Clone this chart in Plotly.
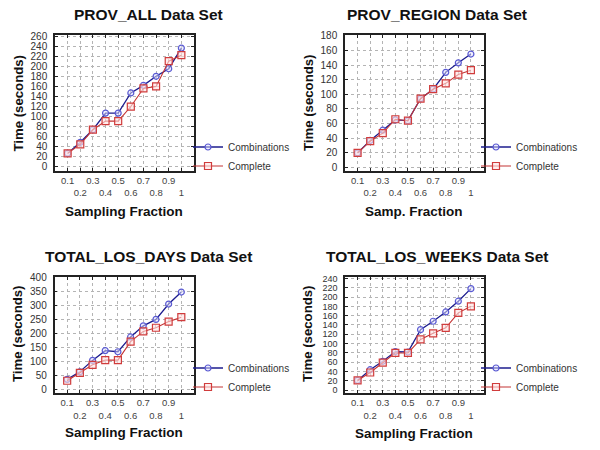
import plotly.graph_objects as go

fractions = [0.1, 0.2, 0.3, 0.4, 0.5, 0.6, 0.7, 0.8, 0.9, 1.0]
x_tick_labels = ["0.1", "0.2", "0.3", "0.4", "0.5", "0.6", "0.7", "0.8", "0.9", "1"]

panel_titles = ["PROV_ALL Data Set", "PROV_REGION Data Set",
                "TOTAL_LOS_DAYS Data Set", "TOTAL_LOS_WEEKS Data Set"]
x_titles = ["Sampling Fraction", "Samp. Fraction", "Sampling Fraction", "Sampling Fraction"]
y_title = "Time (seconds)"
series_names = ["Combinations", "Complete"]

prov_all_comb = [27, 49, 74, 107, 107, 147, 162, 180, 195, 236]
prov_all_comp = [27, 45, 74, 91, 91, 120, 156, 160, 210, 222]

prov_region_comb = [20, 37, 51, 65, 64, 94, 107, 130, 143, 155]
prov_region_comp = [20, 36, 47, 66, 64, 94, 107, 115, 127, 133]

los_days_comb = [35, 62, 103, 138, 134, 187, 227, 250, 305, 348]
los_days_comp = [30, 58, 87, 104, 104, 170, 207, 220, 242, 258]

los_weeks_comb = [21, 44, 62, 83, 82, 130, 148, 168, 191, 218]
los_weeks_comp = [21, 38, 59, 80, 80, 109, 122, 134, 166, 180]

comb_series = [prov_all_comb, prov_region_comb, los_days_comb, los_weeks_comb]
comp_series = [prov_all_comp, prov_region_comp, los_days_comp, los_weeks_comp]

y_ranges = [[-7, 262], [-4, 181], [-14, 402], [-6, 243]]
y_dticks = [20, 20, 50, 20]
y_tick_sizes = [10, 10, 10, 9]

W, H = 600, 450
def px(x):
    return x / W
def py(y):
    return 1 - y / H

# panel boxes in pixels: left, right, top, bottom
boxes = [(55, 194, 35, 170.5), (345, 483.5, 35, 170.5),
         (54.5, 194, 277, 393), (345, 483.5, 277, 393)]

FONT = "Arial, Liberation Sans, sans-serif"
fig = go.Figure()

tick_text = [t if i % 2 == 0 else "<br>" + t for i, t in enumerate(x_tick_labels)]

for i in range(4):
    sfx = "" if i == 0 else str(i + 1)
    leg = "legend" if i == 0 else "legend" + str(i + 1)
    fig.add_trace(go.Scatter(
        x=fractions, y=comb_series[i], name=series_names[0], mode="lines+markers",
        line=dict(color="#1c1c8e", width=1.3),
        marker=dict(symbol="circle", size=6, color="rgba(225,225,255,0.5)",
                    line=dict(color="#5a5ad2", width=1.2)),
        xaxis="x" + sfx, yaxis="y" + sfx, legend=leg))
    fig.add_trace(go.Scatter(
        x=fractions, y=comp_series[i], name=series_names[1], mode="lines+markers",
        line=dict(color="#c43434", width=1.1),
        marker=dict(symbol="square", size=7, color="rgba(255,225,225,0.6)",
                    line=dict(color="#d03c3c", width=1.2)),
        xaxis="x" + sfx, yaxis="y" + sfx, legend=leg))

layout = dict(width=W, height=H, margin=dict(l=0, r=0, t=0, b=0, autoexpand=False),
              paper_bgcolor="white", plot_bgcolor="white", showlegend=True,
              font=dict(family=FONT, color="#333"))

annotations = []
title_pos = [(148, 15), (437, 15), (148, 256), (437.5, 256)]
ytitle_pos = [(17.5, 103), (308, 103), (17, 334), (307, 334)]
xtitle_pos = [(124, 212), (414, 212), (124, 432.5), (413.5, 433)]
legend_pos = [(188, 132.5), (476, 132.5), (188, 353.5), (476, 353.5)]

for i in range(4):
    l, r, t, b = boxes[i]
    sfx = "" if i == 0 else str(i + 1)
    layout["xaxis" + sfx] = dict(
        domain=[px(l), px(r)], range=[0, 1.1], anchor="y" + sfx,
        tickvals=fractions, ticktext=tick_text, tickangle=0, ticks="inside", ticklen=3,
        tickcolor="#222", showline=True, linecolor="#222", linewidth=1.5,
        mirror="ticks", showgrid=True, gridcolor="#b4b4b4", griddash="dot",
        gridwidth=1, zeroline=False, tickfont=dict(size=9.5, color="#444"),
        ticklabelstandoff=0, automargin=False)
    layout["yaxis" + sfx] = dict(
        domain=[py(b), py(t)], range=y_ranges[i], anchor="x" + sfx,
        tick0=0, dtick=y_dticks[i], ticks="inside", ticklen=3,
        tickcolor="#222", showline=True, linecolor="#222", linewidth=1.5,
        mirror="ticks", showgrid=True, gridcolor="#b4b4b4", griddash="dot",
        gridwidth=1, zeroline=False, tickfont=dict(size=y_tick_sizes[i], color="#333"),
        ticklabelstandoff=4, automargin=False)
    leg = "legend" if i == 0 else "legend" + str(i + 1)
    lx, ly = legend_pos[i]
    layout[leg] = dict(x=px(lx), y=py(ly), xanchor="left", yanchor="top",
                       bgcolor="rgba(0,0,0,0)", font=dict(size=10, color="#333"),
                       itemwidth=30, tracegroupgap=0)
    tx, ty = title_pos[i]
    annotations.append(dict(text="<b>%s</b>" % panel_titles[i], x=px(tx), y=py(ty),
                            xref="paper", yref="paper", showarrow=False,
                            xanchor="center", yanchor="middle",
                            font=dict(size=15.5, color="#111", family=FONT)))
    yx, yy = ytitle_pos[i]
    annotations.append(dict(text="<b>%s</b>" % y_title, x=px(yx), y=py(yy),
                            xref="paper", yref="paper", showarrow=False, textangle=-90,
                            xanchor="center", yanchor="middle",
                            font=dict(size=13.2, color="#111", family=FONT)))
    xx, xy = xtitle_pos[i]
    annotations.append(dict(text="<b>%s</b>" % x_titles[i], x=px(xx), y=py(xy),
                            xref="paper", yref="paper", showarrow=False,
                            xanchor="center", yanchor="middle",
                            font=dict(size=13.5, color="#111", family=FONT)))

layout["annotations"] = annotations
fig.update_layout(**layout)
fig.write_html("out.html", config={"displayModeBar": False},
               post_script="document.body.style.margin='0';")
